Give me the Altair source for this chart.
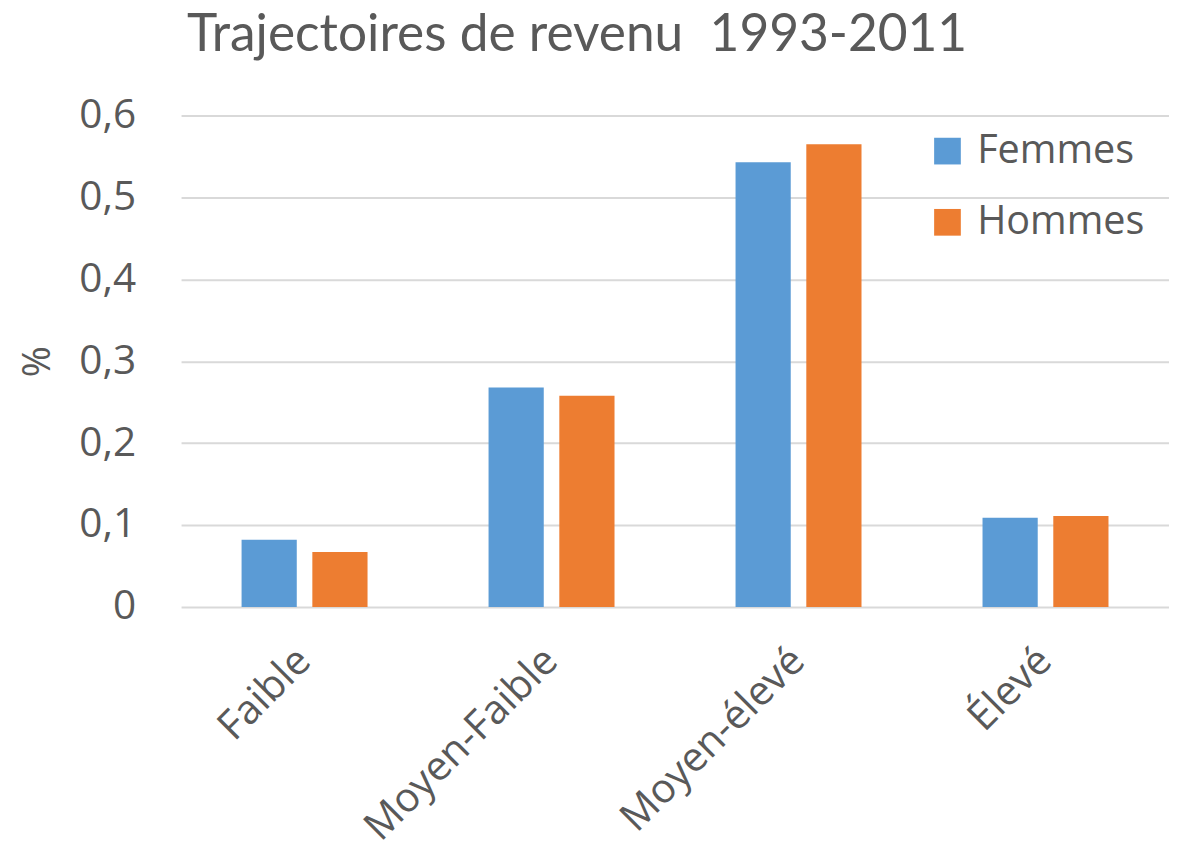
import altair as alt
import pandas as pd

categories = ["Faible", "Moyen-Faible", "Moyen-élevé", "Élevé"]
series = ["Femmes", "Hommes"]
femmes = [0.082, 0.268, 0.543, 0.109]
hommes = [0.067, 0.258, 0.565, 0.111]
colors = ["#5B9BD5", "#ED7D31"]

rows = []
for c, f, h in zip(categories, femmes, hommes):
    rows.append({"cat": c, "sexe": "Femmes", "val": f})
    rows.append({"cat": c, "sexe": "Hommes", "val": h})
df = pd.DataFrame(rows)

FONT = "Open Sans"
TFONT = "Lato"
TXT = "#595959"

chart = alt.Chart(df).mark_bar().encode(
    x=alt.X("cat:N", sort=categories, title=None,
            scale=alt.Scale(paddingInner=0.49, paddingOuter=0.245),
            axis=alt.Axis(labelAngle=-45, labelAlign="right", labelBaseline="middle",
                          labelFontSize=41, labelColor=TXT, labelFont=FONT, labelLimit=0,
                          ticks=False, domain=False, labelPadding=48, labelOffset=0)),
    xOffset=alt.XOffset("sexe:N", sort=series, scale=alt.Scale(paddingInner=0.22, paddingOuter=0)),
    y=alt.Y("val:Q", title="%",
            scale=alt.Scale(domain=[0, 0.6]),
            axis=alt.Axis(values=[0, 0.1, 0.2, 0.3, 0.4, 0.5, 0.6],
                          labelExpr="datum.value == 0 ? '0' : replace(format(datum.value, '.1f'), '.', ',')",
                          labelFontSize=41, labelColor=TXT, labelFont=FONT, labelPadding=46,
                          ticks=False, domain=False, gridColor="#D9D9D9", gridWidth=2,
                          titleFontSize=38, titleColor=TXT, titleFont=FONT, titleFontWeight="normal",
                          titlePadding=22)),
    color=alt.Color("sexe:N", sort=series, scale=alt.Scale(domain=series, range=colors),
                    legend=alt.Legend(title=None, orient="none", legendX=755, legendY=16,
                                      symbolType="square", symbolSize=729, symbolStrokeWidth=0,
                                      labelFontSize=40, labelColor=TXT, labelFont=FONT, labelLimit=0,
                                      rowPadding=32, labelOffset=10, symbolOpacity=1)),
).properties(
    width=999, height=497,
    title=alt.TitleParams("Trajectoires de revenu\u00a0 1993-2011", fontSize=52, color=TXT,
                          font=TFONT, fontWeight="normal", anchor="middle", dx=-99, offset=33),
    autosize=alt.AutoSizeParams(type="none"),
    padding={"left": 175, "top": 104, "right": 0, "bottom": 240},
).configure_view(stroke=None)

chart.save("out.html", embed_options={"renderer": "svg", "actions": False})
